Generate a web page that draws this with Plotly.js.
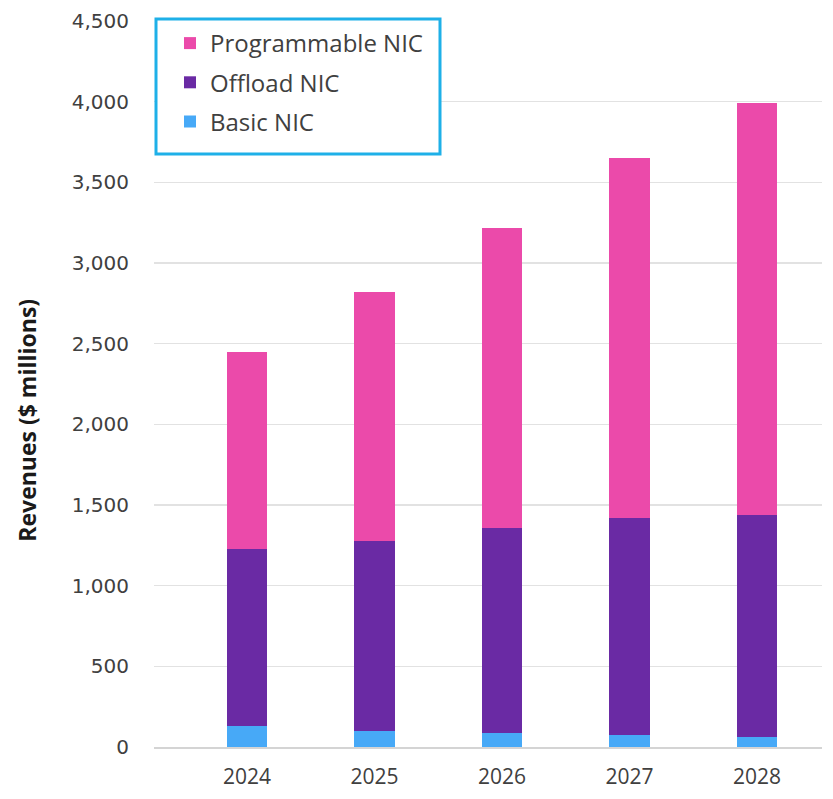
<!DOCTYPE html>
<html>
<head>
<meta charset="utf-8">
<script src="https://cdn.plot.ly/plotly-3.0.1.min.js"></script>
<style>html,body{margin:0;padding:0;background:#fff;}#chart{width:833px;height:799px;}</style>
</head>
<body>
<div id="chart"></div>
<script>
var years = ["2024", "2025", "2026", "2027", "2028"];
var basicNIC = [130, 100, 86, 74, 62];
var offloadNIC = [1100, 1175, 1272, 1346, 1376];
var programmableNIC = [1220, 1545, 1862, 2230, 2552];
var yTickVals = [0, 500, 1000, 1500, 2000, 2500, 3000, 3500, 4000, 4500];
var yTickText = ["0", "500", "1,000", "1,500", "2,000", "2,500", "3,000", "3,500", "4,000", "4,500"];

var barWidth = 0.32;
function mk(name, vals, color, rank) {
  return {
    type: "bar", name: name, x: years, y: vals, width: barWidth,
    marker: {color: color, line: {width: 0}},
    legendgroup: name, legendrank: rank, hoverinfo: "x+y+name"
  };
}
var data = [
  mk("Basic NIC", basicNIC, "#47A9F7", 3),
  mk("Offload NIC", offloadNIC, "#6A2AA4", 2),
  mk("Programmable NIC", programmableNIC, "#EB4AAA", 1)
];

var W = 668, H = 726.5, L = 154, B = 747.5;
function px(x) { return (x - L) / W; }
function py(y) { return (B - y) / H; }

var layout = {
  width: 833, height: 799,
  margin: {l: 154, r: 11, t: 21, b: 51.5, pad: 0},
  paper_bgcolor: "#fff", plot_bgcolor: "#fff",
  barmode: "stack",
  showlegend: true,
  legend: {
    x: px(170), y: py(21), xanchor: "left", yanchor: "top",
    borderwidth: 0, bgcolor: "rgba(0,0,0,0)",
    traceorder: "grouped", tracegroupgap: 5,
    font: {family: "Open Sans, Noto Sans, sans-serif", size: 24, color: "#404040"},
    itemwidth: 30
  },
  xaxis: {
    type: "category", range: [-0.73, 4.51],
    showline: true, linecolor: "#d4d4d4", linewidth: 2,
    showgrid: false, ticks: "",
    tickfont: {family: "Open Sans, Noto Sans, sans-serif", size: 21, color: "#404040"},
    ticklabelstandoff: 10
  },
  yaxis: {
    range: [0, 4500], tickvals: yTickVals, ticktext: yTickText,
    showgrid: true, gridcolor: "#e2e2e2", gridwidth: 1.5,
    zeroline: false, showline: false, ticks: "",
    tickfont: {family: "DejaVu Sans, Verdana, sans-serif", size: 20, color: "#404040"},
    ticklabelstandoff: 24
  },
  shapes: [{
    type: "rect", xref: "paper", yref: "paper",
    x0: px(156), x1: px(440), y0: py(154), y1: py(19),
    line: {color: "#1EB0E8", width: 3}, fillcolor: "#ffffff", layer: "above"
  }],
  annotations: [{
    text: "<b>Revenues ($ millions)</b>",
    xref: "paper", yref: "paper",
    x: px(27), y: py(421),
    xanchor: "center", yanchor: "middle",
    textangle: -90, showarrow: false,
    font: {family: "Open Sans, Noto Sans, sans-serif", size: 23, color: "#1a1a1a"}
  }]
};

Plotly.newPlot("chart", data, layout, {displayModeBar: false, staticPlot: true});
</script>
</body>
</html>
